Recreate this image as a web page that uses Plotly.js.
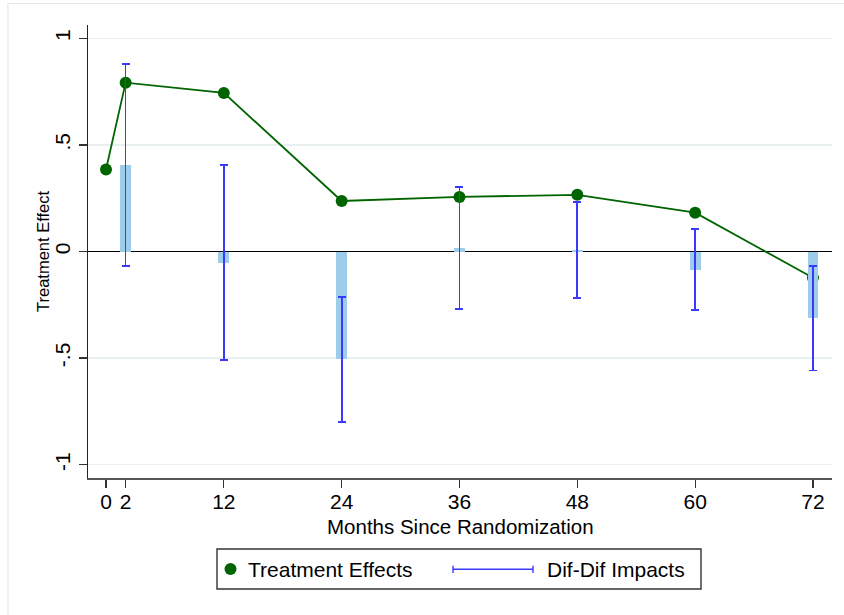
<!DOCTYPE html>
<html>
<head>
<meta charset="utf-8">
<script src="https://cdn.plot.ly/plotly-3.0.1.min.js"></script>
<style>
html,body{margin:0;padding:0;background:#fff;}
#chart{width:844px;height:615px;}
</style>
</head>
<body>
<div id="chart"></div>
<script>
// ---- data ----
const teMonths = [0, 2, 12, 24, 36, 48, 60, 72];
const treatmentEffects = [0.385, 0.792, 0.744, 0.237, 0.256, 0.266, 0.182, -0.123];

const ddMonths = [2, 12, 24, 36, 48, 60, 72];
const difDifImpacts = [0.406, -0.052, -0.506, 0.017, 0.009, -0.086, -0.312];
const ciLow  = [-0.068, -0.510, -0.800, -0.269, -0.217, -0.274, -0.558];
const ciHigh = [ 0.879,  0.407, -0.214,  0.302,  0.233,  0.105, -0.069];

const xTickVals = [0, 2, 12, 24, 36, 48, 60, 72];
const xTickText = ['0', '2', '12', '24', '36', '48', '60', '72'];
const yTickVals = [-1, -0.5, 0, 0.5, 1];
const yTickText = ['-1', '-.5', '0', '.5', '1'];

// ---- layout helpers (pixel -> paper) ----
const M = {l: 88, r: 12, t: 25, b: 137};
const W = 844, H = 615;
const PW = W - M.l - M.r, PH = H - M.t - M.b;
const px = p => (p - M.l) / PW;
const py = p => (H - M.b - p) / PH;

const FONT = 'Liberation Sans, Arial, Helvetica, sans-serif';
const green = '#006400';
const barBlue = 'rgb(158,205,236)';
const ciBlue = '#3a3aff';
const xRange = [-1.834, 73.94];
const yRange = [-1.0625, 1.0625];

const traces = [
  {
    type: 'scatter', mode: 'lines+markers',
    x: teMonths, y: treatmentEffects,
    line: {color: green, width: 1.8},
    marker: {color: green, size: 12},
    xaxis: 'x', yaxis: 'y',
    name: 'Treatment Effects', showlegend: false
  },
  {
    type: 'bar',
    x: ddMonths, y: difDifImpacts,
    width: 1.1,
    marker: {color: barBlue, line: {width: 0}},
    error_y: {
      type: 'data', symmetric: false,
      array: difDifImpacts.map((v, i) => ciHigh[i] - v),
      arrayminus: difDifImpacts.map((v, i) => v - ciLow[i]),
      color: ciBlue, thickness: 1.7, width: 4
    },
    xaxis: 'x2', yaxis: 'y2',
    name: 'Dif-Dif Impacts', showlegend: false
  }
];

const legShapes = [
  // outer graph-region frame
  {type: 'rect', xref: 'paper', yref: 'paper', x0: px(8), x1: px(860), y0: py(3.5), y1: py(640),
   line: {color: '#e2eaeb', width: 1.2}, fillcolor: 'rgba(0,0,0,0)', layer: 'below'},
  // legend box
  {type: 'rect', xref: 'paper', yref: 'paper', x0: px(217), x1: px(701), y0: py(549), y1: py(589),
   line: {color: '#333', width: 1.4}, fillcolor: '#fff'},
  // legend marker
  {type: 'circle', xref: 'paper', yref: 'paper', x0: px(224.5), x1: px(236.5), y0: py(563), y1: py(575),
   line: {width: 0}, fillcolor: green},
  // legend rcap symbol
  {type: 'line', xref: 'paper', yref: 'paper', x0: px(453), x1: px(533), y0: py(569.3), y1: py(569.3),
   line: {color: ciBlue, width: 1.4}},
  {type: 'line', xref: 'paper', yref: 'paper', x0: px(453), x1: px(453), y0: py(565.7), y1: py(573), line: {color: ciBlue, width: 1.4}},
  {type: 'line', xref: 'paper', yref: 'paper', x0: px(533), x1: px(533), y0: py(565.7), y1: py(573), line: {color: ciBlue, width: 1.4}}
];

const layout = {
  width: W, height: H,
  margin: M,
  paper_bgcolor: '#fff', plot_bgcolor: '#fff',
  font: {family: FONT, color: '#000'},
  showlegend: false,
  bargap: 0,
  xaxis: {
    range: xRange, tickmode: 'array', tickvals: xTickVals, ticktext: xTickText,
    ticks: 'outside', ticklen: 8, tickwidth: 1.2, tickcolor: '#333',
    ticklabelstandoff: -4,
    showline: true, linecolor: '#555', linewidth: 1.6,
    showgrid: false, zeroline: false,
    tickfont: {size: 21, family: FONT},
    fixedrange: true
  },
  yaxis: {
    range: yRange, tickmode: 'array', tickvals: yTickVals, ticktext: yTickText,
    tickangle: -90,
    ticks: 'outside', ticklen: 8, tickwidth: 1.2, tickcolor: '#333',
    showline: true, linecolor: '#222', linewidth: 1.4,
    showgrid: true, gridcolor: '#e7eff0', gridwidth: 1.6,
    zeroline: true, zerolinecolor: '#000', zerolinewidth: 1.6,
    tickfont: {size: 21, family: FONT},
    fixedrange: true
  },
  xaxis2: {overlaying: 'x', range: xRange, visible: false, fixedrange: true},
  yaxis2: {overlaying: 'y', range: yRange, visible: false, fixedrange: true},
  shapes: legShapes,
  annotations: [
    // axis titles
    {xref: 'paper', yref: 'paper', x: px(460), y: py(526), xanchor: 'center', yanchor: 'middle',
     text: 'Months Since Randomization', showarrow: false, font: {size: 20.5, family: FONT, color: '#000'}},
    {xref: 'paper', yref: 'paper', x: px(43), y: py(252), xanchor: 'center', yanchor: 'middle', textangle: -90,
     text: 'Treatment Effect', showarrow: false, font: {size: 16.5, family: FONT, color: '#000'}},
    // legend labels
    {xref: 'paper', yref: 'paper', x: px(246), y: py(569), xanchor: 'left', yanchor: 'middle',
     text: 'Treatment Effects', showarrow: false, font: {size: 21, family: FONT, color: '#000'}},
    {xref: 'paper', yref: 'paper', x: px(545), y: py(569), xanchor: 'left', yanchor: 'middle',
     text: 'Dif-Dif Impacts', showarrow: false, font: {size: 21, family: FONT, color: '#000'}}
  ]
};

Plotly.newPlot('chart', traces, layout, {displayModeBar: false, staticPlot: true});
</script>
</body>
</html>
